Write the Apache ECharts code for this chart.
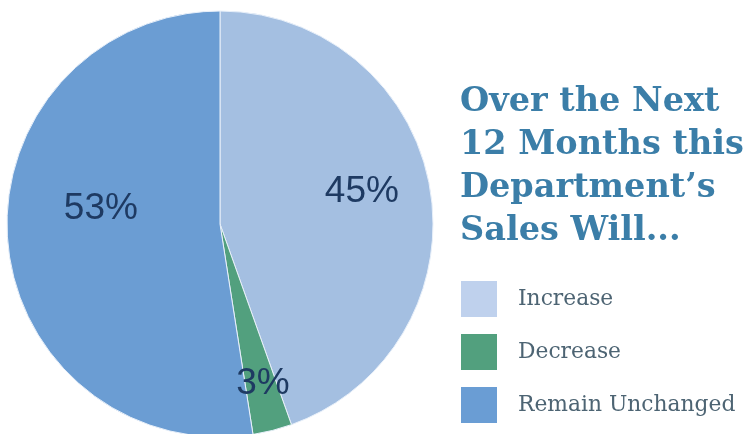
<!DOCTYPE html>
<html>
<head>
<meta charset="utf-8">
<script src="https://cdn.jsdelivr.net/npm/echarts@6/dist/echarts.min.js"></script>
<style>
  html, body { margin: 0; padding: 0; background: #ffffff; }
  #chart { width: 754px; height: 434px; }
</style>
</head>
<body>
<div id="chart"></div>
<script>
// Survey answers: how sales will change over the next 12 months
const categories = ['Increase', 'Decrease', 'Remain Unchanged'];
const shares = [45, 3, 53];
const titleLines = ['Over the Next', '12 Months this', 'Department\u2019s', 'Sales Will...'];

const sliceColors = ['#a4bfe1', '#52a07e', '#6b9dd3'];
const swatchColors = ['#bfd1ed', '#52a07e', '#6a9dd4'];
// nudges from the default inner label spot
const labelNudge = [[34, -14], [16, 54], [-10, -24]];

const chart = echarts.init(document.getElementById('chart'), null, { renderer: 'canvas' });

chart.setOption({
  animation: false,
  backgroundColor: '#ffffff',
  title: {
    text: titleLines.join('\n'),
    left: 455,
    top: 76,
    textStyle: {
      fontFamily: 'DejaVu Serif',
      fontWeight: 'bold',
      fontSize: 33.5,
      lineHeight: 43,
      color: '#3b7ea8'
    }
  },
  legend: {
    orient: 'vertical',
    left: 461,
    top: 281,
    width: 290,
    height: 160,
    padding: 0,
    itemWidth: 36,
    itemHeight: 36,
    itemGap: 17,
    icon: 'rect',
    selectedMode: false,
    itemStyle: { borderWidth: 0 },
    data: categories.map((name, i) => ({ name, itemStyle: { color: swatchColors[i], borderWidth: 0 } })),
    textStyle: {
      fontFamily: 'DejaVu Serif',
      fontSize: 21.8,
      color: '#4d6473',
      padding: [0, 0, 0, 16]
    }
  },
  series: [{
    type: 'pie',
    center: [220, 224],
    radius: 213,
    startAngle: 90,
    clockwise: true,
    silent: true,
    data: categories.map((name, i) => ({
      name,
      value: shares[i],
      itemStyle: { color: sliceColors[i] }
    })),
    itemStyle: { borderColor: '#e8f0fa', borderWidth: 1 },
    label: {
      show: true,
      position: 'inside',
      formatter: '{c}%',
      fontFamily: 'Liberation Sans, Arial, sans-serif',
      fontSize: 37,
      color: '#1e3a62'
    },
    labelLine: { show: false },
    labelLayout: function (params) {
      const n = labelNudge[params.dataIndex];
      return { dx: n[0], dy: n[1] };
    }
  }]
});
</script>
</body>
</html>
